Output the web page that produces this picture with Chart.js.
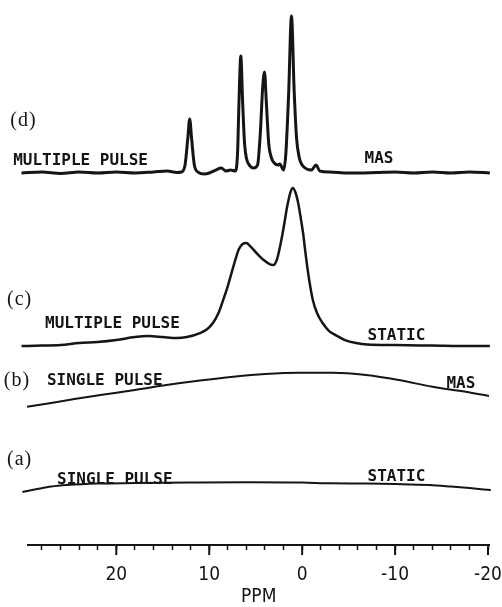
<!DOCTYPE html>
<html>
<head>
<meta charset="utf-8">
<script src="https://cdn.jsdelivr.net/npm/chart.js@4/dist/chart.umd.min.js"></script>
<style>
  html, body { margin: 0; padding: 0; background: #fff; overflow: hidden; }
  #wrap { width: 502px; height: 607px; position: relative; }
  #chart { display: block; }
</style>
</head>
<body>
<div id="wrap"><canvas id="chart"></canvas></div>
<script>
// chemical shift (ppm) and intensity, bottom (a) to top (d)
const ppmA = [30.1, 28.5, 27, 25.3, 22, 18, 12, 6, 0, -3, -7, -10, -13.7, -16, -18, -20.3];
const intA = [3, 6, 8.5, 10, 11.5, 12, 12.5, 12.8, 12.5, 11.7, 11.5, 11, 10, 8.5, 7, 5];

const ppmB = [29.6, 27, 24.5, 21.7, 18, 14.6, 11, 7.4, 4, 0.3, -3.3, -6.9, -10.4, -14, -17.6, -20.1];
const intB = [3.3, 7, 11, 15, 20, 25, 29.5, 33.3, 36, 37.3, 37.3, 35, 30, 23.3, 18.3, 14];

const ppmC = [30.2, 28, 26, 24, 22, 20, 18, 16.5, 15, 13.5, 12.4, 11, 10.2, 9.6, 9, 8.5, 8, 7.6, 7.2, 6.8,
  6.4, 6, 5.6, 5.2, 4.6, 4, 3.5, 3.1, 2.7, 2.3, 2, 1.6, 1.25, 1, 0.7, 0.45, 0.15, -0.1, -0.4, -0.6,
  -0.9, -1.15, -1.6, -2.2, -2.9, -3.6, -4.6, -5.8, -7, -10, -14, -18, -20.2];
const intC = [0, 0.5, 1, 3, 4, 6, 9, 10, 9, 8, 9, 13, 17, 23, 33, 46, 60, 73, 86, 97,
  102, 103, 100, 96, 90, 85, 82, 81, 87, 103, 118, 140, 154, 158, 153, 144, 128, 113, 90, 76,
  58, 46, 33, 23, 15, 11, 6, 3, 1.5, 1, 0.5, 0, 0];

const ppmD = [30.2, 28, 26, 24, 22, 20, 18, 16, 14.5, 13.5, 13, 12.6, 12.3, 12.1, 11.9, 11.6, 11.2, 10.5, 10,
  9.3, 8.7, 8.2, 7.7, 7.2, 6.95, 6.8, 6.6, 6.4, 6.2, 6, 5.6, 5.2, 4.8, 4.5, 4.25, 4.05, 3.85, 3.6, 3.3,
  3, 2.6, 2.4, 2, 1.75, 1.45, 1.15, 0.85, 0.6, 0.3, 0, -0.5, -1, -1.5, -1.9, -3, -5, -8, -10, -12, -14,
  -16, -18, -20.2];
const intD = [0, 1, -0.5, 1, 0, 1, 0, 1, 2, 0.5, 1, 8, 35, 54, 35, 8, 1, -1, 0,
  3, 5, 2, 3, 2, 20, 70, 117, 70, 30, 15, 7, 5, 8, 40, 85, 101, 70, 30, 15,
  10, 8, 9, 3, 20, 80, 157, 80, 35, 15, 8, 4, 3, 8, 2, 1, 0, 0.5, 1, 0, 1,
  0, 1, 0];

// vertical stacking of the four spectra
const traceOffsets = [50, 135, 199, 372];

const xTicksMajor = [20, 10, 0, -10, -20];

const traceLabels = [
  { text: "(d)", ppm: 31.4, y: 419, serif: true },
  { text: "MULTIPLE PULSE", ppm: 31.1, y: 380 },
  { text: "MAS", ppm: -6.72, y: 382 },
  { text: "(c)", ppm: 31.76, y: 240, serif: true },
  { text: "MULTIPLE PULSE", ppm: 27.67, y: 217 },
  { text: "STATIC", ppm: -7.04, y: 205 },
  { text: "(b)", ppm: 32.1, y: 159, serif: true },
  { text: "SINGLE PULSE", ppm: 27.46, y: 160 },
  { text: "MAS", ppm: -15.53, y: 157 },
  { text: "(a)", ppm: 31.76, y: 80, serif: true },
  { text: "SINGLE PULSE", ppm: 26.38, y: 61 },
  { text: "STATIC", ppm: -7.04, y: 64 },
];

const INK = "#151515";
const AXIS_FONT = "'Liberation Sans Narrow', 'DejaVu Sans Condensed', 'Liberation Sans', sans-serif";

const makeTrace = (ppm, vals, offset, width) => ({
  data: ppm.map((p, i) => ({ x: p, y: vals[i] + offset })),
  borderColor: INK,
  borderWidth: width,
  pointRadius: 0,
  fill: false,
  cubicInterpolationMode: "monotone",
  clip: false,
});

// labels next to each spectrum, plus the longer major ticks
const annotate = {
  id: "annotate",
  afterDatasetsDraw(chart) {
    const { ctx, scales } = chart;
    ctx.save();
    ctx.fillStyle = INK;
    ctx.textBaseline = "alphabetic";
    ctx.textAlign = "left";
    traceLabels.forEach((l) => {
      const x = scales.x.getPixelForValue(l.ppm);
      const y = scales.y.getPixelForValue(l.y);
      if (l.serif) {
        ctx.font = "20px 'Liberation Serif', 'DejaVu Serif', serif";
        ctx.letterSpacing = "1px";
      } else {
        ctx.font = "bold 16px 'DejaVu Sans Mono', monospace";
        ctx.letterSpacing = "0px";
      }
      ctx.fillText(l.text, x, y);
    });
    ctx.restore();
  },
  afterDraw(chart) {
    const { ctx, scales, chartArea } = chart;
    ctx.save();
    ctx.strokeStyle = INK;
    ctx.lineWidth = 2;
    xTicksMajor.forEach((v) => {
      const x = scales.x.getPixelForValue(v);
      ctx.beginPath();
      ctx.moveTo(x, chartArea.bottom);
      ctx.lineTo(x, chartArea.bottom + 10);
      ctx.stroke();
    });
    ctx.restore();
  },
};

new Chart(document.getElementById("chart").getContext("2d"), {
  type: "line",
  data: {
    datasets: [
      makeTrace(ppmA, intA, traceOffsets[0], 2),
      makeTrace(ppmB, intB, traceOffsets[1], 2),
      makeTrace(ppmC, intC, traceOffsets[2], 2.5),
      makeTrace(ppmD, intD, traceOffsets[3], 3),
    ],
  },
  options: {
    responsive: true,
    maintainAspectRatio: false,
    animation: false,
    layout: { padding: { left: 28, right: 12, top: 0, bottom: 0 } },
    plugins: { legend: { display: false }, tooltip: { enabled: false } },
    scales: {
      x: {
        type: "linear",
        reverse: true,
        min: -20.15,
        max: 29.5,
        border: { display: true, color: INK, width: 2 },
        grid: { drawOnChartArea: false, drawTicks: true, tickLength: 5, tickColor: INK, tickWidth: 1.5 },
        ticks: {
          stepSize: 2,
          includeBounds: false,
          autoSkip: false,
          maxRotation: 0,
          padding: 0,
          color: INK,
          font: { family: AXIS_FONT, size: 19, lineHeight: 2.68 },
          callback: (v) => (v % 10 === 0 ? String(v) : ""),
        },
        title: {
          display: true,
          text: "PPM",
          color: INK,
          padding: { top: -13, bottom: 0 },
          font: { family: AXIS_FONT, size: 19, lineHeight: 1 },
        },
      },
      y: { display: false, min: 0, max: 545 },
    },
  },
  plugins: [annotate],
});
</script>
</body>
</html>
